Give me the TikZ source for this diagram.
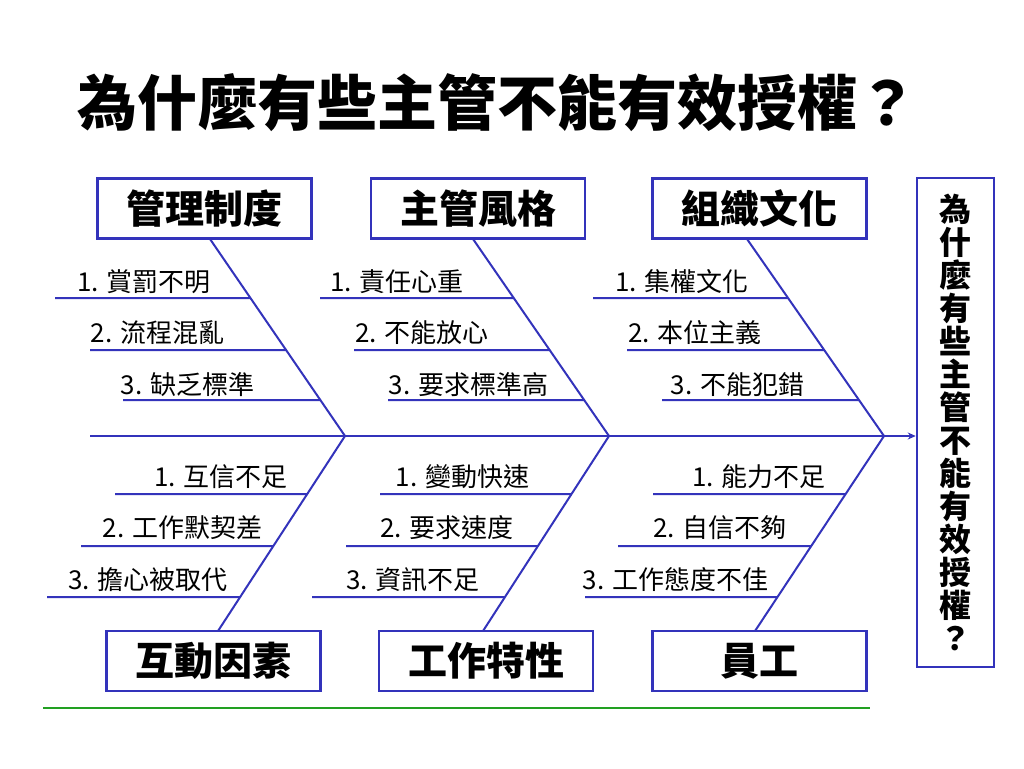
\documentclass[tikz,border=0pt]{standalone}
\usepackage{fontspec}
\setmainfont{Noto Sans CJK TC}
\usetikzlibrary{arrows.meta,calc}
\definecolor{bline}{RGB}{51,51,187}
\definecolor{gline}{RGB}{34,160,34}
\begin{document}
\begin{tikzpicture}[x=1pt,y=-1pt,
  cat/.style={draw=bline, line width=2.5pt, minimum width=214pt, minimum height=60pt, inner sep=0pt, font=\fontsize{39}{40}\selectfont\bfseries},
  lbl/.style={inner sep=0pt, font=\fontsize{26}{28}\selectfont},
  bone/.style={draw=bline, line width=2pt}]
\useasboundingbox (0,0) rectangle (1024,768);
\node[font=\fontsize{60}{62}\selectfont\bfseries] (title) at (497,103) {為什麼有些主管不能有效授權？};
% category boxes
\node[cat] (c1) at (204.5,208.5) {管理制度};
\node[cat] (c2) at (478,208.5) {主管風格};
\node[cat] (c3) at (759.5,208.5) {組織文化};
\node[cat] (c4) at (213.5,661) {互動因素};
\node[cat] (c5) at (486,661) {工作特性};
\node[cat] (c6) at (759.5,661) {員工};
% effect box
\node[draw=bline, line width=2.5pt, minimum width=77pt, minimum height=489pt, inner sep=0pt, align=center,
  font=\fontsize{32}{33}\selectfont\bfseries] (eff) at (955.5,422.5)
  {為\\什\\麼\\有\\些\\主\\管\\不\\能\\有\\效\\授\\權\\？};
% spine
\coordinate (tail) at (90,436);
\draw[bone, -{Stealth[length=8pt,width=7pt]}] (tail) -- (eff.west |- tail);
\coordinate (j1) at (345,436);
\coordinate (j2) at (609,436);
\coordinate (j3) at (884,436);
% diagonals
\coordinate (t1) at (210,239);
\coordinate (t2) at (473,239);
\coordinate (t3) at (747,239);
\coordinate (u1) at (218,631);
\coordinate (u2) at (483,631);
\coordinate (u3) at (755,631);
\draw[bone] (t1) -- (j1);
\draw[bone] (t2) -- (j2);
\draw[bone] (t3) -- (j3);
\draw[bone] (u1) -- (j1);
\draw[bone] (u2) -- (j2);
\draw[bone] (u3) -- (j3);
% bones
\foreach \sx/\yy/\ta/\jb/\ya in {55/298/t1/j1/239, 90/350/t1/j1/239, 123/400/t1/j1/239,
  320/298/t2/j2/239, 354/350/t2/j2/239, 388/400/t2/j2/239,
  593/298/t3/j3/239, 627/350/t3/j3/239, 662/400/t3/j3/239,
  115/494/u1/j1/631, 81/546/u1/j1/631, 47/597/u1/j1/631,
  380/494/u2/j2/631, 346/546/u2/j2/631, 312/597/u2/j2/631,
  653/494/u3/j3/631, 618/546/u3/j3/631, 585/597/u3/j3/631}
  \draw[bone] (\sx,\yy) -- ($(\ta)!{(\yy-\ya)/(436-\ya)}!(\jb)$);
% labels
\node[lbl] (l11) at (144,282) {1. 賞罰不明};
\node[lbl] (l12) at (157.5,333) {2. 流程混亂};
\node[lbl] (l13) at (187.5,385) {3. 缺乏標準};
\node[lbl] (l21) at (397,282) {1. 責任心重};
\node[lbl] (l22) at (422,333) {2. 不能放心};
\node[lbl] (l23) at (468.5,385) {3. 要求標準高};
\node[lbl] (l31) at (682,282) {1. 集權文化};
\node[lbl] (l32) at (695,333) {2. 本位主義};
\node[lbl] (l33) at (737.5,385) {3. 不能犯錯};
\node[lbl] (l41) at (221,477) {1. 互信不足};
\node[lbl] (l42) at (182.5,528) {2. 工作默契差};
\node[lbl] (l43) at (148,580) {3. 擔心被取代};
\node[lbl] (l51) at (462.5,477) {1. 變動快速};
\node[lbl] (l52) at (447,528) {2. 要求速度};
\node[lbl] (l53) at (413,580) {3. 資訊不足};
\node[lbl] (l61) at (759,477) {1. 能力不足};
\node[lbl] (l62) at (720,528) {2. 自信不夠};
\node[lbl] (l63) at (675.5,580) {3. 工作態度不佳};
% green rule
\coordinate (g1) at (43,708);
\coordinate (g2) at (870,708);
\draw[gline, line width=2pt] (g1) -- (g2);
\end{tikzpicture}
\end{document}
